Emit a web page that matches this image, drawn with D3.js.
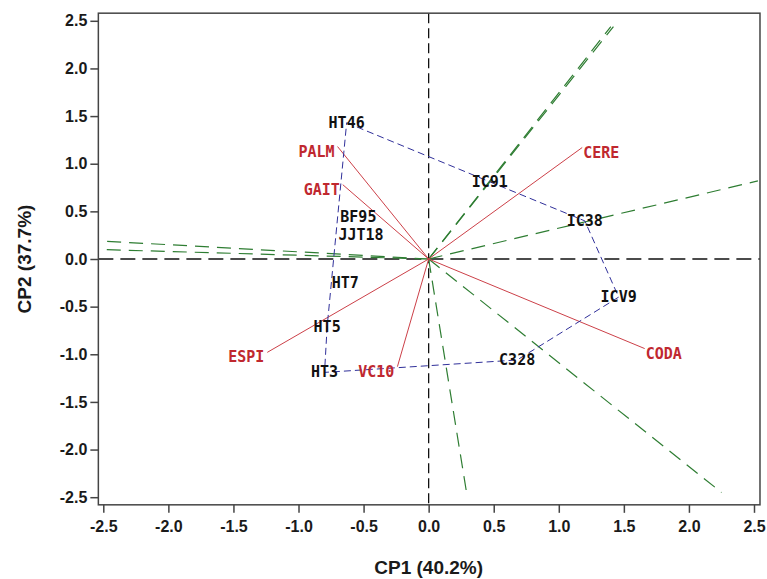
<!DOCTYPE html>
<html>
<head>
<meta charset="utf-8">
<script src="https://cdn.jsdelivr.net/npm/d3@7"></script>
<style>
  body { margin: 0; background: #fff; }
</style>
</head>
<body>
<svg class="biplot"></svg>
<script>

//Données
const genotypes = ["HT46", "IC91", "IC38", "ICV9", "C328", "HT3", "HT5", "HT7", "BF95", "JJT18"];
const genoCP1 = [-0.63, 0.47, 1.20, 1.46, 0.68, -0.80, -0.78, -0.64, -0.54, -0.52];
const genoCP2 = [1.43, 0.81, 0.40, -0.40, -1.06, -1.19, -0.71, -0.25, 0.44, 0.25];

//Enveloppe convexe (ordre des sommets)
const enveloppe = ["HT46", "IC91", "IC38", "ICV9", "C328", "HT3", "HT5"];

const variables = ["CERE", "CODA", "PALM", "GAIT", "ESPI", "VC10"];
const varCP1 = [1.18, 1.66, -0.70, -0.66, -1.24, -0.24];
const varCP2 = [1.17, -0.94, 1.18, 0.78, -0.98, -1.13];

//Extrémités des droites des secteurs
const secteurCP1 = [1.42, 1.40, 2.53, 2.25, 0.29, -2.53, -2.53];
const secteurCP2 = [2.44, 2.44, 0.82, -2.45, -2.44, 0.19, 0.10];

const graduations = [-2.5, -2.0, -1.5, -1.0, -0.5, 0.0, 0.5, 1.0, 1.5, 2.0, 2.5];

const titreX = "CP1 (40.2%)";
const titreY = "CP2 (37.7%)";


w = 767;
h = 579;

let svgBiplot = d3.select(".biplot")
    .attr("width", w)
    .attr("height", h);

//Echelles
let x = d3.scaleLinear()
    .domain([-2.5, 2.5])
    .range([103.3, 754]);

let y = d3.scaleLinear()
    .domain([-2.5, 2.5])
    .range([497.2, 20.8]);

let cadre = {gauche: x(-2.538), droite: x(2.546), haut: y(2.58), bas: y(-2.58)};

//Droites des axes (pointillés noirs)
svgBiplot.append("line")
    .attr("x1", cadre.gauche).attr("x2", cadre.droite)
    .attr("y1", y(0)).attr("y2", y(0))
    .style("stroke", "#111")
    .style("stroke-width", 1.3)
    .style("stroke-dasharray", "15,7");

svgBiplot.append("line")
    .attr("x1", x(0)).attr("x2", x(0))
    .attr("y1", cadre.haut).attr("y2", cadre.bas)
    .style("stroke", "#111")
    .style("stroke-width", 1.3)
    .style("stroke-dasharray", "10,5");

//Secteurs (pointillés verts)
svgBiplot.append("g")
    .selectAll("line")
    .data(secteurCP1)
    .enter()
    .append("line")
    .attr("x1", x(0))
    .attr("y1", y(0))
    .attr("x2", d => x(d))
    .attr("y2", (d, i) => y(secteurCP2[i]))
    .style("stroke", "#2e7d32")
    .style("stroke-width", 1.2)
    .style("stroke-dasharray", "14,8");

//Vecteurs des variables
svgBiplot.append("g")
    .selectAll("line")
    .data(variables)
    .enter()
    .append("line")
    .attr("x1", x(0))
    .attr("y1", y(0))
    .attr("x2", (d, i) => x(varCP1[i]))
    .attr("y2", (d, i) => y(varCP2[i]))
    .style("stroke", "#cc4048")
    .style("stroke-width", 1);

//Enveloppe des génotypes
let sommets = enveloppe.map(function(g){
  let k = genotypes.indexOf(g);
  return [x(genoCP1[k]), y(genoCP2[k])];
});

svgBiplot.append("path")
    .attr("d", d3.line()(sommets) + "Z")
    .style("fill", "none")
    .style("stroke", "#30309a")
    .style("stroke-width", 1)
    .style("stroke-dasharray", "7,4");

//Etiquettes des variables
svgBiplot.append("g")
    .selectAll("text")
    .data(variables)
    .enter()
    .append("text")
    .attr("x", (d, i) => x(varCP1[i]) + (varCP1[i] > 0 ? 1 : -3))
    .attr("y", (d, i) => y(varCP2[i]) + 5)
    .attr("text-anchor", (d, i) => varCP1[i] > 0 ? "start" : "end")
    .attr("dominant-baseline", "central")
    .style("font-family", "DejaVu Sans Mono")
    .style("font-weight", "bold")
    .style("font-size", "15px")
    .style("fill", "#c0282f")
    .text(d => d);

//Etiquettes des génotypes
svgBiplot.append("g")
    .selectAll("text")
    .data(genotypes)
    .enter()
    .append("text")
    .attr("x", (d, i) => x(genoCP1[i]))
    .attr("y", (d, i) => y(genoCP2[i]))
    .attr("text-anchor", "middle")
    .attr("dominant-baseline", "central")
    .style("font-family", "DejaVu Sans Mono")
    .style("font-weight", "bold")
    .style("font-size", "15px")
    .style("fill", "#111")
    .text(d => d);

//Cadre
svgBiplot.append("rect")
    .attr("x", cadre.gauche)
    .attr("y", cadre.haut)
    .attr("width", cadre.droite - cadre.gauche)
    .attr("height", cadre.bas - cadre.haut)
    .style("fill", "none")
    .style("stroke", "#444")
    .style("stroke-width", 1.5);

//Axes
let axeX = svgBiplot.append("g")
    .attr("transform", `translate(0,${cadre.bas})`)
    .call(d3.axisBottom(x).tickValues(graduations).tickSize(8).tickSizeOuter(0).tickPadding(8));

let axeY = svgBiplot.append("g")
    .attr("transform", `translate(${cadre.gauche},0)`)
    .call(d3.axisLeft(y).tickValues(graduations).tickSize(8).tickSizeOuter(0).tickPadding(3));

[axeX, axeY].forEach(function(a){
  a.select(".domain").remove();
  a.selectAll("line").style("stroke", "#444").style("stroke-width", 1.5);
  a.selectAll("text")
    .style("font-family", "Liberation Sans, Arial, sans-serif")
    .style("font-weight", "bold")
    .style("font-size", "16px")
    .style("fill", "#1a1a1a")
    .text(d => d3.format(".1f")(d).replace("−", "-"));
});

//Titres des axes
svgBiplot.append("text")
    .attr("x", x(0))
    .attr("y", 574)
    .attr("text-anchor", "middle")
    .style("font-family", "Liberation Sans, Arial, sans-serif")
    .style("font-weight", "bold")
    .style("font-size", "19px")
    .style("fill", "#1a1a1a")
    .text(titreX);

svgBiplot.append("text")
    .attr("transform", `translate(31,${y(0)}) rotate(-90)`)
    .attr("text-anchor", "middle")
    .style("font-family", "Liberation Sans, Arial, sans-serif")
    .style("font-weight", "bold")
    .style("font-size", "19px")
    .style("fill", "#1a1a1a")
    .text(titreY);

</script>
</body>
</html>
